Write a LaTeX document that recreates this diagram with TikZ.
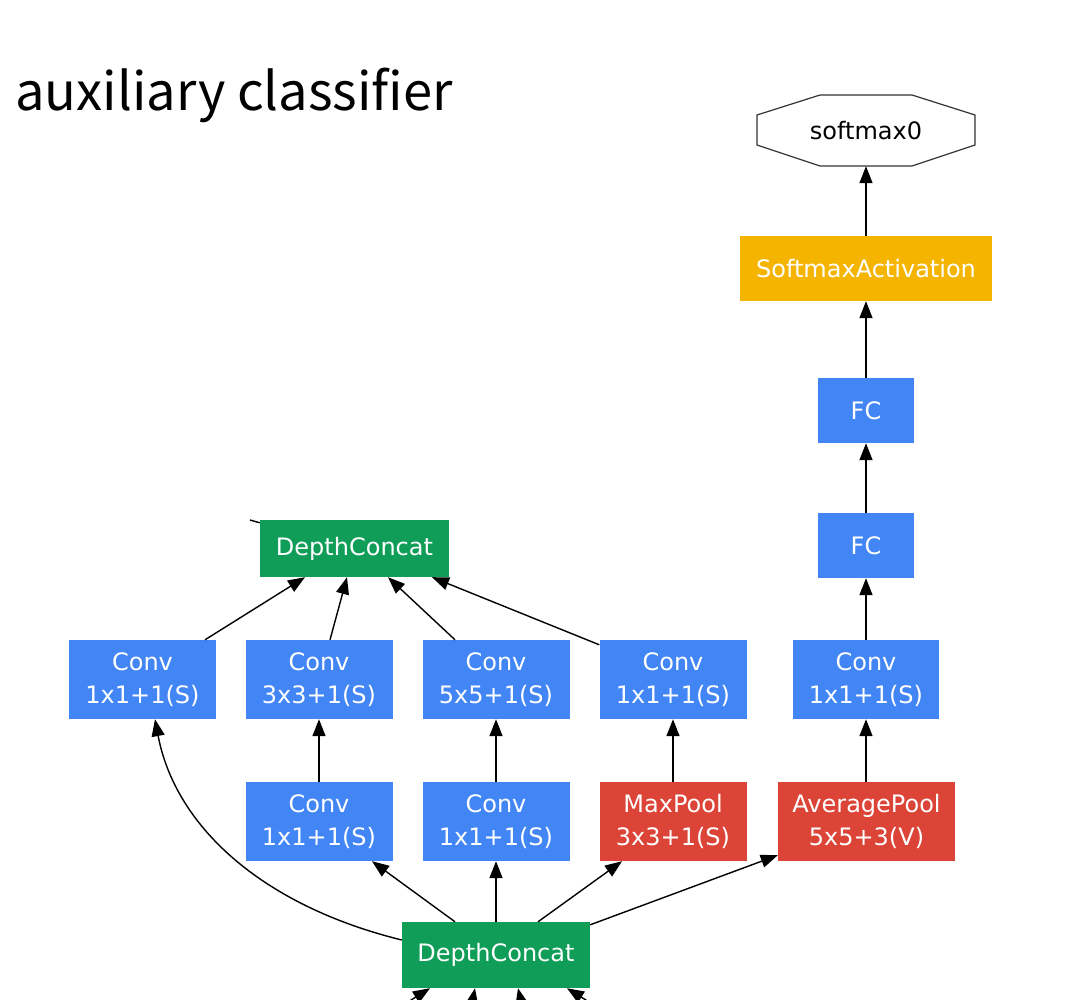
\documentclass[tikz,border=0pt]{standalone}
\usepackage{fontspec}
\setmainfont{DejaVu Sans}
\newfontfamily\titlefont{Noto Sans CJK KR}
\usetikzlibrary{arrows.meta}
\definecolor{gblue}{RGB}{66,133,244}
\definecolor{ggreen}{RGB}{15,157,88}
\definecolor{gred}{RGB}{219,68,55}
\definecolor{gyellow}{RGB}{244,180,0}
\tikzset{
  box/.style={fill=#1, text=white, inner sep=0pt, align=center,
    font=\fontsize{24}{33}\selectfont},
  convbox/.style={box=gblue, minimum width=147pt, minimum height=79pt},
  redbox/.style={box=gred, minimum width=147pt, minimum height=79pt},
  fcbox/.style={box=gblue, minimum width=96pt, minimum height=65pt},
  dcbox/.style={box=ggreen, minimum height=57pt},
  arr/.style={line width=1.4pt, -{Triangle[length=17pt,width=13pt]}},
}
\begin{document}
\begin{tikzpicture}[x=1pt,y=-1pt]
\useasboundingbox (0,0) rectangle (1090,1000);
\clip (0,0) rectangle (1090,1000);

\node[anchor=base west, inner sep=0pt, font=\titlefont\fontsize{52.5}{60}\selectfont] (title) at (15,111) {auxiliary classifier};

% output octagon
\draw[line width=1.2pt, draw=black!80, fill=white] (820,95) -- (912,95) -- (975,115) -- (975,145) -- (912,166) -- (820,166) -- (757,145) -- (757,115) -- cycle;
\node[minimum width=218pt, minimum height=71pt, inner sep=0pt, font=\fontsize{24}{30}\selectfont] (sm) at (866,130.5) {softmax0};

\node[box=gyellow, minimum width=252pt, minimum height=65pt] (sa) at (866,268.5) {SoftmaxActivation};
\node[fcbox] (fc2) at (866,410.5) {FC};
\node[fcbox] (fc1) at (866,545.5) {FC};

\node[dcbox, minimum width=189pt] (dct) at (354.5,548.5) {DepthConcat};

\node[convbox] (c1) at (142.5,679.5) {Conv\\1x1+1(S)};
\node[convbox] (c33) at (319,679.5) {Conv\\3x3+1(S)};
\node[convbox] (c55) at (496,679.5) {Conv\\5x5+1(S)};
\node[convbox] (c11b) at (673,679.5) {Conv\\1x1+1(S)};
\node[convbox, minimum width=146pt] (cr) at (866,679.5) {Conv\\1x1+1(S)};

\node[convbox] (c11a) at (319,821.5) {Conv\\1x1+1(S)};
\node[convbox] (c11c) at (496,821.5) {Conv\\1x1+1(S)};
\node[redbox] (mp) at (673,821.5) {MaxPool\\3x3+1(S)};
\node[redbox, minimum width=177pt] (ap) at (866.5,821.5) {AveragePool\\5x5+3(V)};

\node[dcbox, minimum width=188pt, minimum height=66pt] (dcb) at (496,955) {DepthConcat};

% right column
\draw[arr] (sa) -- (sm);
\draw[arr] (fc2) -- (sa);
\draw[arr] (fc1) -- (fc2);
\draw[arr] (cr) -- (fc1);
\draw[arr] (ap.north -| cr.south) -- (cr.south);

% verticals
\draw[arr] (c11a) -- (c33);
\draw[arr] (c11c) -- (c55);
\draw[arr] (mp) -- (c11b);

% into top DepthConcat
\draw[arr] ([xshift=62.5pt]c1.north) -- ([xshift=-49.5pt]dct.south);
\draw[arr] ([xshift=11pt]c33.north) -- ([xshift=-7.5pt]dct.south);
\draw[arr] ([xshift=-41pt]c55.north) -- ([xshift=33.5pt]dct.south);
\draw[arr] ([yshift=-5pt]c11b.north west) -- ([xshift=77.5pt]dct.south);
\coordinate (stub) at (250,520);
\draw[line width=1.4pt] ([yshift=-3pt]dct.north west) -- (stub);

% out of bottom DepthConcat
\draw[arr] ([yshift=15pt]dcb.west) .. controls (260,905) and (175,825) .. ([xshift=12.5pt]c1.south);
\draw[arr] ([xshift=-41pt]dcb.north) -- ([xshift=53pt]c11a.south);
\draw[arr] (dcb.north) -- (c11c.south);
\draw[arr] ([xshift=42pt]dcb.north) -- ([xshift=-51pt]mp.south);
\draw[arr] ([yshift=-3pt]dcb.north east) -- ([yshift=6pt]ap.south west);

% incoming from below (cut off)
\coordinate (in1) at (392,1012);
\coordinate (in2) at (470,1014);
\coordinate (in3) at (524,1014);
\coordinate (in4) at (605,1012);
\draw[arr] (in1) -- ([xshift=-66pt]dcb.south);
\draw[arr] (in2) -- ([xshift=-21pt]dcb.south);
\draw[arr] (in3) -- ([xshift=22pt]dcb.south);
\draw[arr] (in4) -- ([xshift=71pt]dcb.south);
\end{tikzpicture}
\end{document}
